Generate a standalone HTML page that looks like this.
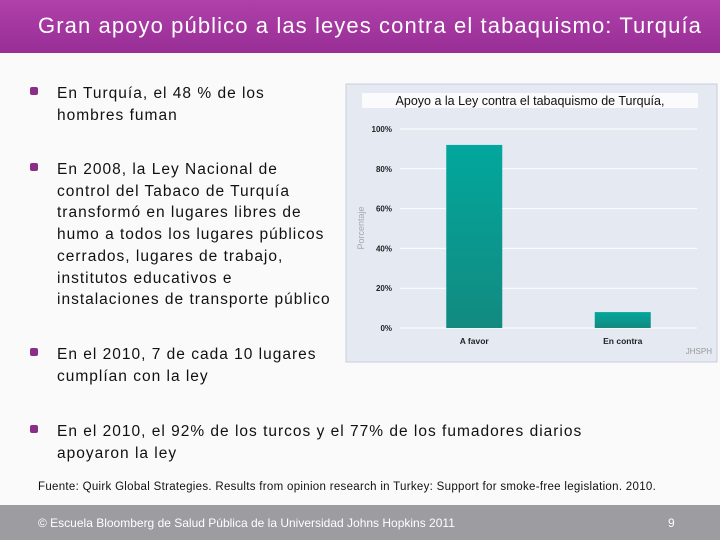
<!DOCTYPE html>
<html><head><meta charset="utf-8"><style>
body{margin:0;width:720px;height:540px;position:relative;background:#fafafa;font-family:"Liberation Sans",sans-serif;overflow:hidden}
#hdr{position:absolute;left:0;top:0;width:720px;height:53px;background:linear-gradient(#b040aa,#982e96);}
#hdr span{position:absolute;left:38px;top:13px;color:#fff;font-size:22px;letter-spacing:1.1px;white-space:nowrap}
.b{position:absolute;left:57px;font-size:15.5px;line-height:21.7px;color:#111;white-space:nowrap;letter-spacing:1px}
.b::before{content:"";position:absolute;left:-27px;top:4px;width:8px;height:8px;background:#8a2e8a;border-radius:2px}
#src{position:absolute;left:38px;top:481px;font-size:11.5px;color:#111;letter-spacing:0.3px;white-space:nowrap}
#ftr{position:absolute;left:0;top:505px;width:720px;height:35px;background:#9c9ca1;color:#fff;font-size:12px}
</style></head><body>
<div id="hdr"><span>Gran apoyo público a las leyes contra el tabaquismo: Turquía</span></div>
<div class="b" style="top:83px">En Turquía, el 48 % de los<br>hombres fuman</div>
<div class="b" style="top:159px">En 2008, la Ley Nacional de<br>control del Tabaco de Turquía<br>transformó en lugares libres de<br>humo a todos los lugares públicos<br>cerrados, lugares de trabajo,<br>institutos educativos e<br>instalaciones de transporte público</div>
<div class="b" style="top:344px">En el 2010, 7 de cada 10 lugares<br>cumplían con la ley</div>
<div class="b" style="top:421px">En el 2010, el 92% de los turcos y el 77% de los fumadores diarios<br>apoyaron la ley</div>
<svg id="chart" style="position:absolute;left:0;top:0" width="720" height="540"></svg>
<div id="src">Fuente: Quirk Global Strategies. Results from opinion research in Turkey: Support for smoke-free legislation. 2010.</div>
<div id="ftr"><span style="position:absolute;left:38px;top:11px">© Escuela Bloomberg de Salud Pública de la Universidad Johns Hopkins 2011</span><span style="position:absolute;left:668px;top:11px">9</span></div>
<script>
const categories=["A favor","En contra"];
const values=[92,8];
const ticks=[0,20,40,60,80,100];
const tickLabels=["0%","20%","40%","60%","80%","100%"];
const svg=document.getElementById('chart');const NS="http://www.w3.org/2000/svg";
function el(t,a,txt){const e=document.createElementNS(NS,t);for(const k in a)e.setAttribute(k,a[k]);if(txt!=null)e.textContent=txt;svg.appendChild(e);return e;}
const x0=400,x1=697,y0=328,y1=129;
const y=v=>y0-(v/100)*(y0-y1);
const bandW=(x1-x0)/categories.length;
const xc=i=>x0+bandW*(i+0.5);
let p=el('rect',{x:346,y:84,width:371,height:278,fill:'#e4e9f2',stroke:'#ccd',"stroke-width":1});

let tb=el('rect',{x:362,y:93,width:336,height:15,fill:'#fbfbfd'});

let tt=el('text',{x:530,y:105,"text-anchor":"middle","font-size":12.5,fill:'#111',"font-family":"Liberation Sans"},"Apoyo a la Ley contra el tabaquismo de Turquía,");

ticks.forEach((t,i)=>{
 const g=el('line',{x1:x0,x2:x1,y1:y(t),y2:y(t),stroke:'#fff',"stroke-width":1});
 
 const l=el('text',{x:392,y:y(t)+3,"text-anchor":"end","font-size":8,"font-weight":"bold",fill:'#222'},tickLabels[i]);
 
});
let yt=el('text',{x:0,y:0,transform:'translate(364,228) rotate(-90)',"text-anchor":"middle","font-size":9,fill:'#a8a8b0'},"Porcentaje");

const defs=el('defs',{});defs.innerHTML='<linearGradient id="bg" x1="0" y1="0" x2="0" y2="1"><stop offset="0" stop-color="#02a79d"/><stop offset="1" stop-color="#128a80"/></linearGradient>';
values.forEach((v,i)=>{
 const w=56;
 const r=el('rect',{x:xc(i)-w/2,y:y(v),width:w,height:y0-y(v),fill:'url(#bg)'});
 
 const l=el('text',{x:xc(i),y:344,"text-anchor":"middle","font-size":8.5,"font-weight":"bold",fill:'#222'},categories[i]);
 
});
let wm=el('text',{x:712,y:354,"text-anchor":"end","font-size":8,fill:'#999'},"JHSPH");

</script>
</body></html>
